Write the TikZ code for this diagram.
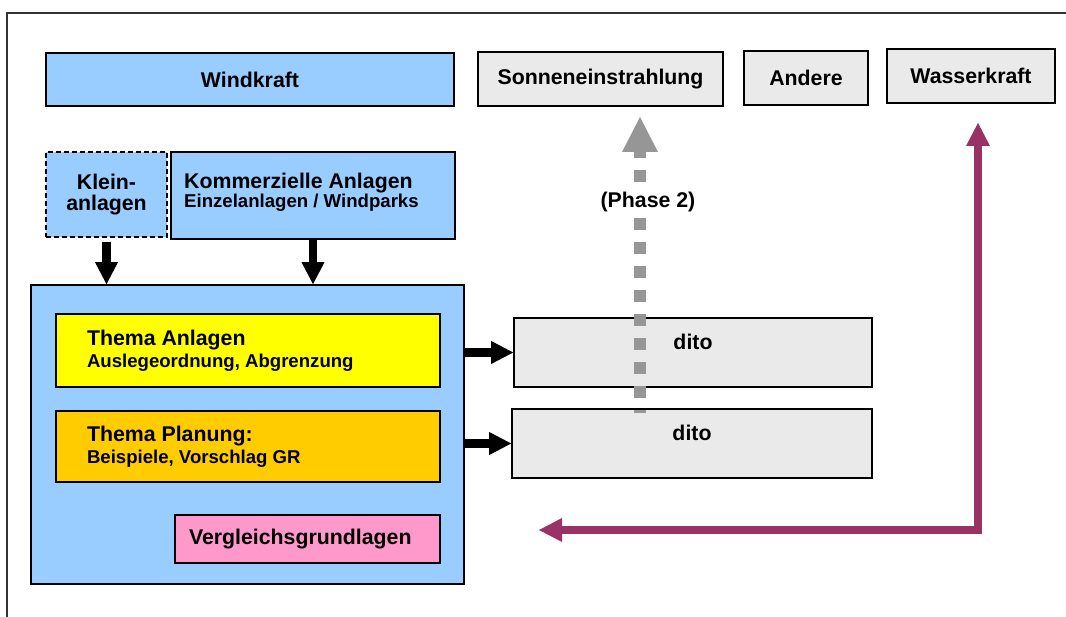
\documentclass[tikz,border=0pt]{standalone}
\usepackage{fontspec}
\setmainfont{Liberation Sans}
\usepackage{tikz}
\usetikzlibrary{arrows.meta, calc, positioning}
\definecolor{windblau}{HTML}{99CCFF}
\definecolor{hellgrau}{HTML}{EAEAEA}
\definecolor{themagelb}{HTML}{FFFF00}
\definecolor{themaorange}{HTML}{FFCC00}
\definecolor{vergleichrosa}{HTML}{FF99CC}
\definecolor{rueckgabelila}{HTML}{993366}
\definecolor{phasegrau}{HTML}{969696}
\newcommand{\grossschrift}{\fontsize{21.3}{22}\selectfont\bfseries}
\newcommand{\kleinschrift}{\fontsize{18.6}{22}\selectfont\bfseries}
\tikzset{
  kasten/.style={draw=black,line width=1.6pt,inner sep=0pt,font=\grossschrift},
  blaukasten/.style={kasten,fill=windblau},
  graukasten/.style={kasten,fill=hellgrau},
  linksbuendig/.style={align=flush left,
    execute at begin node={\frenchspacing\spaceskip=0pt\xspaceskip=0pt}},
  themakasten/.style={kasten,linksbuendig,text width=322pt,inner xsep=31pt,
    minimum width=384pt},
  ditokasten/.style={graukasten,text depth=21pt},
  zeilentext/.style={inner sep=0pt,align=left},
  blockpfeil/.style={draw=black,line width=8.5pt,
    -{Triangle[width=23pt,length=22pt,line width=0pt]}},
  phasepfeil/.style={draw=phasegrau,line width=12pt,
    dash pattern=on 12pt off 12pt,dash phase=9pt,
    -{Triangle[width=36pt,length=35pt,line width=0pt]}},
  rueckpfeil/.style={draw=rueckgabelila,line width=7.5pt,
    {Triangle[width=24pt,length=23pt,line width=0pt]}-{Triangle[width=24pt,length=23pt,line width=0pt]}},
  rahmen/.style={draw=black!80,line width=1.5pt},
}

\begin{document}
\begin{tikzpicture}[x=1pt,y=-1pt]
  \useasboundingbox (0,0) rectangle (1066,617);
  % Rahmen
  \draw[rahmen] (7,617) -- (7,13) -- (1066,13);

  % Energiequellen
  \node[blaukasten,minimum width=408pt,minimum height=53pt] (wind) at (250,79.5) {Windkraft};
  \node[graukasten,minimum width=245pt,minimum height=54pt] (sonne) at (600.5,79) {Sonneneinstrahlung};
  \node[graukasten,minimum width=124pt,minimum height=54pt] (andere) at (806,78) {Andere};
  \node[graukasten,minimum width=168pt,minimum height=54pt] (wasser) at (971,76) {Wasserkraft};

  % Anlagen
  \node[blaukasten,dash pattern=on 5pt off 3pt,align=center,
    font=\fontsize{21.3}{20.5}\selectfont\bfseries,
    minimum width=121pt,minimum height=85pt] (klein) at (106.5,194.5) {Klein-\\anlagen};
  \node[blaukasten,minimum width=284pt,minimum height=87pt] (kommerz) at (313,195.5) {};
  \node[zeilentext,anchor=north west,font=\fontsize{21.3}{19}\selectfont\bfseries]
    (kommerztext) at (184,173) {Kommerzielle Anlagen\\{\kleinschrift Einzelanlagen / Windparks}};

  % Themen
  \node[blaukasten,minimum width=433pt,minimum height=299pt] (haupt) at (247.5,434.5) {};
  \node[themakasten,fill=themagelb,minimum height=73pt] (anlagen) at (248,350.5)
    {Thema Anlagen\\{\kleinschrift Auslegeordnung, Abgrenzung}};
  \node[themakasten,fill=themaorange,minimum height=71pt] (planung) at (248,446.5)
    {Thema Planung:\\{\kleinschrift Beispiele, Vorschlag GR}};
  \node[kasten,linksbuendig,fill=vergleichrosa,text width=237pt,inner xsep=14pt,
    minimum width=265pt,minimum height=48pt] (vergleich) at (307.5,539) {Vergleichsgrundlagen};

  % dito
  \node[ditokasten,minimum width=358pt,minimum height=69pt] (dito1) at (693,352.5) {dito};
  \node[ditokasten,minimum width=360pt,minimum height=69pt] (dito2) at (692,443.5) {dito};

  % Pfeile
  \draw[blockpfeil,shorten <=4pt] (klein.south) -- (klein.south |- haupt.north);
  \draw[blockpfeil] (kommerz.south) -- (kommerz.south |- haupt.north);
  \draw[blockpfeil] (haupt.east |- dito1.west) -- (dito1.west);
  \draw[blockpfeil] (haupt.east |- dito2.west) -- (dito2.west);

  % Phase 2
  \coordinate (phaseunten) at (640,413);
  \coordinate (phasespitze) at (640,117);
  \draw[phasepfeil] (phaseunten) -- (phasespitze);
  \node[font=\grossschrift,fill=white,inner sep=2pt] (phase) at (648,202) {(Phase 2)};

  % Rueckweg
  \coordinate (rueckspitze) at (539,530);
  \coordinate (wasserspitze) at (978,123);
  \draw[rueckpfeil] (rueckspitze) -- (rueckspitze -| wasserspitze) -- (wasserspitze);
\end{tikzpicture}
\end{document}
